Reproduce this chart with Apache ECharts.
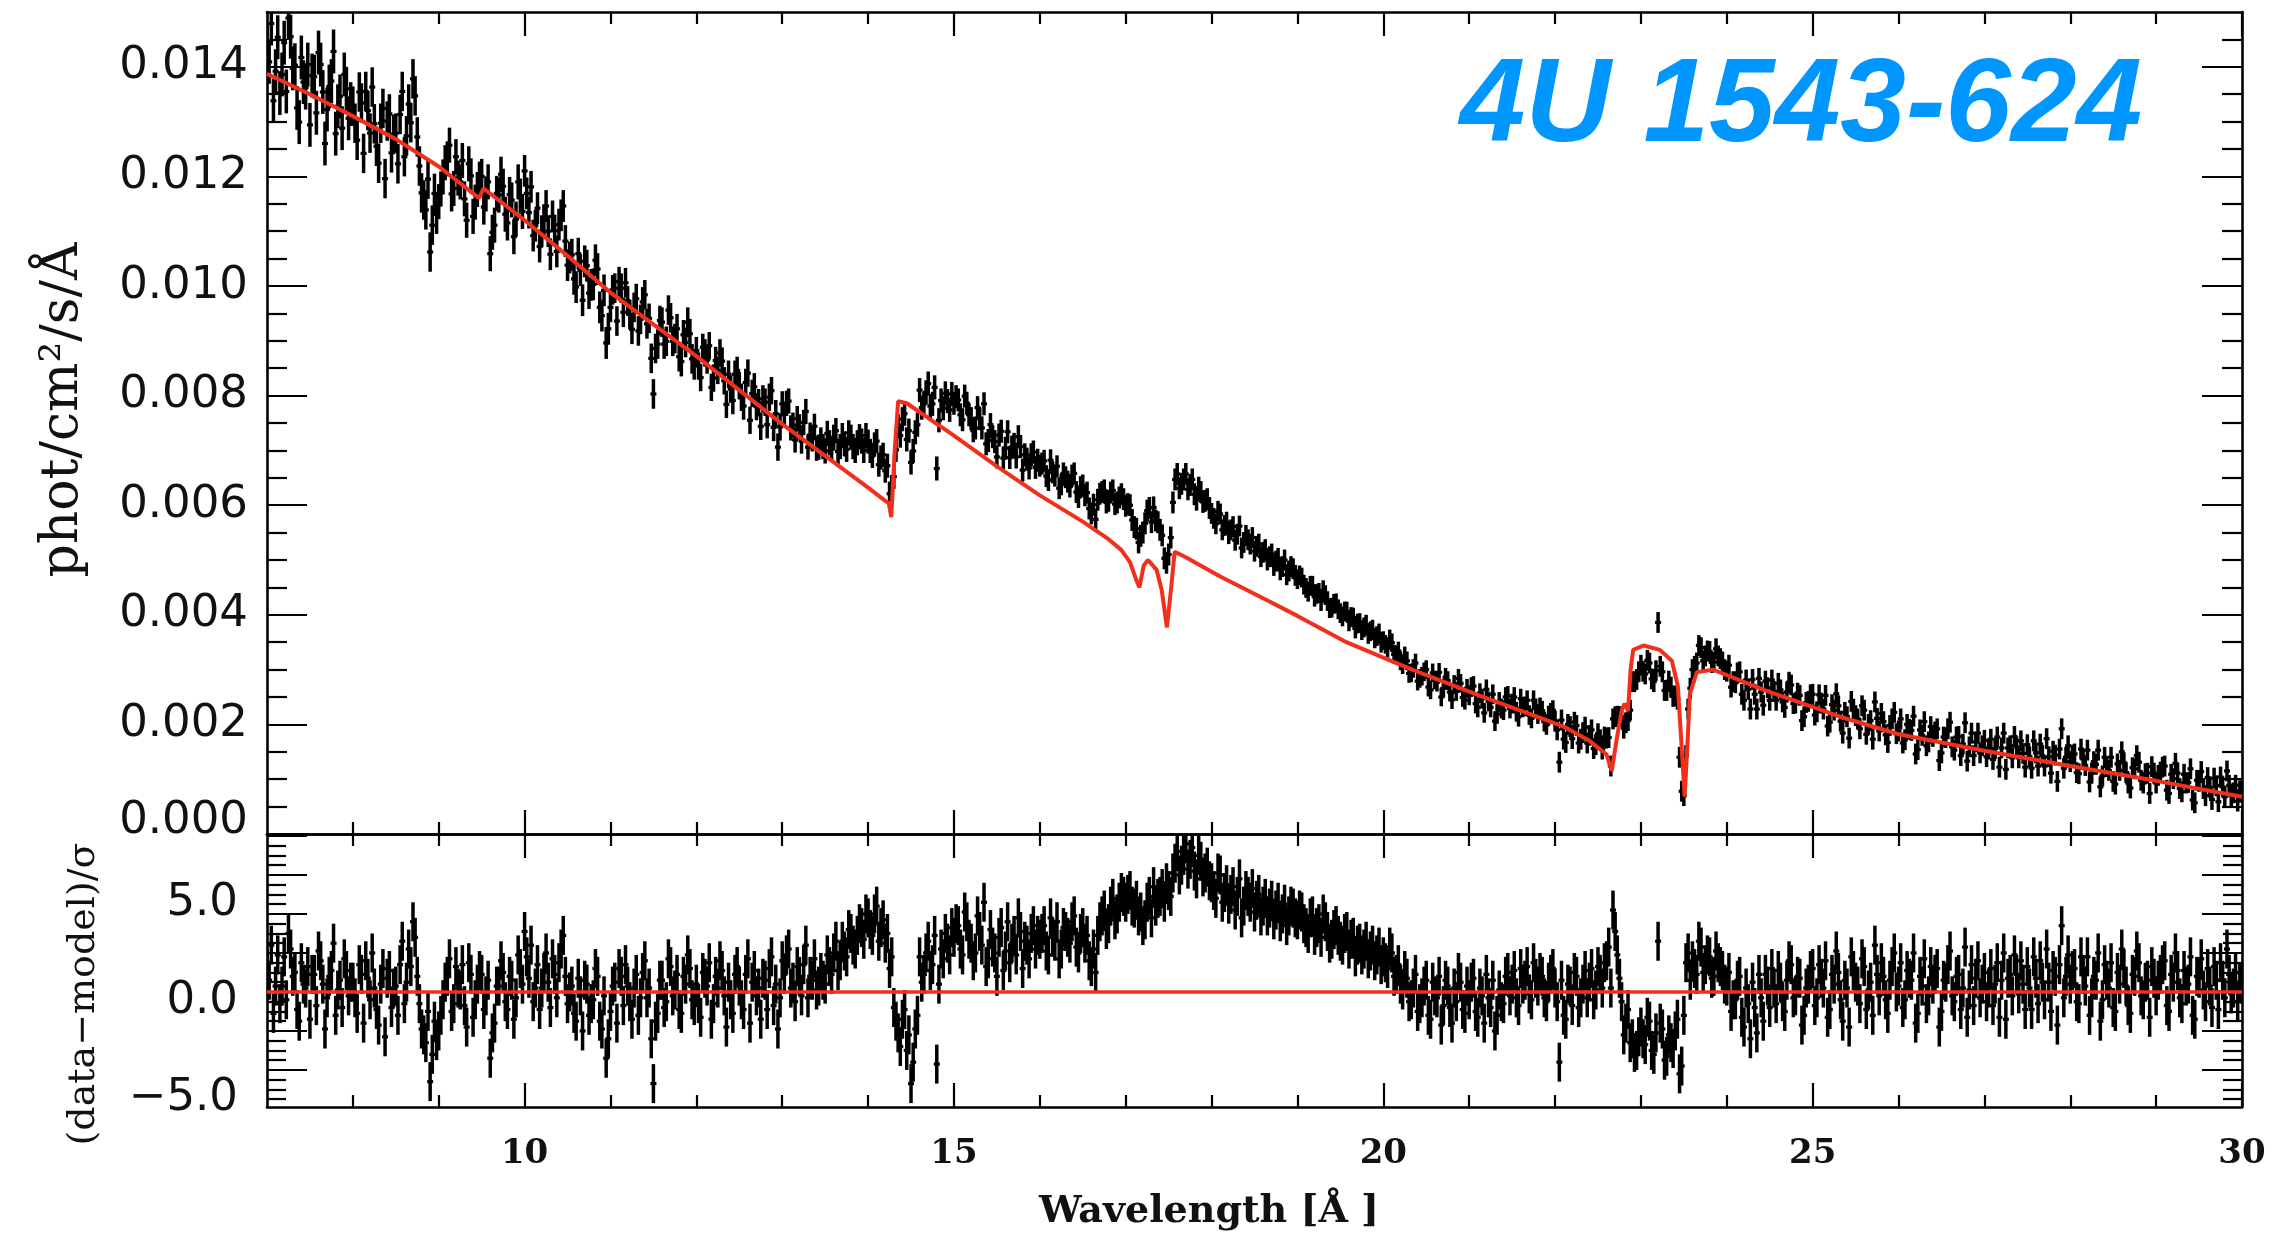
<!DOCTYPE html>
<html>
<head>
<meta charset="utf-8">
<script src="https://cdn.jsdelivr.net/npm/echarts@6/dist/echarts.min.js"></script>
<style>
html,body{margin:0;padding:0;background:#fff;}
#chart{width:2290px;height:1243px;}
</style>
</head>
<body>
<div id="chart"></div>
<script>
// ---------------- DATA ----------------
const waveStart = 7.0;   // first bin centre [Å]
const binStep = 0.05;    // bin spacing [Å] within one set; set B is offset by half a step

// flux per bin, set A: 7.00, 7.05, ... 30.00 Å  [phot/cm^2/s/Å]
const fluxA = [
0.01435,0.01479,0.01392,0.01352,0.01444,0.01489,0.01397,0.01325,0.01417,0.01362,0.01294,0.01382,0.01426,0.01354,0.01322,0.01374,0.01278,0.01346,0.01386,0.01306,
0.01328,0.01266,0.01334,0.01355,0.01279,0.01296,0.01224,0.01324,0.01301,0.01243,0.01279,0.01313,0.01236,0.01332,0.01378,0.01272,0.01170,0.01139,0.01062,0.01169,
0.01154,0.01199,0.01232,0.01168,0.01236,0.01190,0.01159,0.01223,0.01127,0.01176,0.01200,0.01168,0.01059,0.01111,0.01166,0.01182,0.01115,0.01157,0.01122,0.01164,
0.01210,0.01134,0.01092,0.01142,0.01100,0.01146,0.01058,0.01101,0.01112,0.01146,0.01038,0.01057,0.00998,0.01029,0.01045,0.00987,0.01003,0.01031,0.00946,0.00896,
0.00961,0.00996,0.01008,0.00952,0.00973,0.00921,0.00977,0.00939,0.00984,0.00941,0.00803,0.00894,0.00934,0.00899,0.00942,0.00904,0.00871,0.00911,0.00934,0.00867,
0.00882,0.00833,0.00878,0.00891,0.00832,0.00846,0.00863,0.00784,0.00812,0.00839,0.00818,0.00781,0.00841,0.00804,0.00780,0.00744,0.00788,0.00797,0.00742,0.00706,
0.00785,0.00786,0.00741,0.00719,0.00743,0.00751,0.00706,0.00721,0.00704,0.00719,0.00699,0.00714,0.00724,0.00698,0.00727,0.00702,0.00724,0.00700,0.00725,0.00700,
0.00716,0.00690,0.00717,0.00687,0.00663,0.00621,0.00652,0.00744,0.00757,0.00720,0.00678,0.00733,0.00810,0.00785,0.00822,0.00785,0.00667,0.00791,0.00804,0.00774,
0.00786,0.00792,0.00756,0.00786,0.00758,0.00741,0.00758,0.00785,0.00718,0.00725,0.00688,0.00735,0.00704,0.00687,0.00711,0.00725,0.00664,0.00684,0.00692,0.00669,
0.00672,0.00681,0.00646,0.00660,0.00671,0.00638,0.00651,0.00634,0.00658,0.00615,0.00636,0.00623,0.00585,0.00574,0.00621,0.00627,0.00608,0.00627,0.00605,0.00620,
0.00599,0.00600,0.00560,0.00532,0.00550,0.00590,0.00569,0.00572,0.00555,0.00503,0.00510,0.00605,0.00657,0.00639,0.00657,0.00637,0.00620,0.00632,0.00606,0.00611,
0.00585,0.00566,0.00584,0.00563,0.00548,0.00561,0.00547,0.00522,0.00545,0.00529,0.00516,0.00529,0.00514,0.00500,0.00511,0.00498,0.00482,0.00500,0.00480,0.00484,
0.00465,0.00468,0.00449,0.00453,0.00433,0.00440,0.00445,0.00425,0.00413,0.00421,0.00403,0.00406,0.00388,0.00395,0.00384,0.00372,0.00382,0.00370,0.00357,0.00366,
0.00353,0.00339,0.00349,0.00327,0.00316,0.00325,0.00293,0.00302,0.00279,0.00288,0.00300,0.00263,0.00281,0.00295,0.00266,0.00280,0.00245,0.00260,0.00275,0.00244,
0.00253,0.00270,0.00231,0.00247,0.00264,0.00231,0.00206,0.00241,0.00226,0.00252,0.00238,0.00223,0.00247,0.00233,0.00217,0.00244,0.00219,0.00225,0.00199,0.00221,
0.00206,0.00131,0.00173,0.00200,0.00174,0.00198,0.00173,0.00195,0.00180,0.00156,0.00183,0.00155,0.00175,0.00124,0.00214,0.00214,0.00193,0.00207,0.00278,0.00282,
0.00308,0.00292,0.00312,0.00278,0.00386,0.00296,0.00262,0.00268,0.00252,0.00140,0.00070,0.00228,0.00300,0.00312,0.00340,0.00325,0.00333,0.00314,0.00325,0.00314,
0.00297,0.00268,0.00276,0.00296,0.00244,0.00264,0.00282,0.00228,0.00259,0.00279,0.00244,0.00260,0.00275,0.00241,0.00259,0.00272,0.00239,0.00253,0.00214,0.00242,
0.00255,0.00223,0.00239,0.00253,0.00204,0.00226,0.00234,0.00184,0.00214,0.00242,0.00216,0.00192,0.00226,0.00200,0.00173,0.00211,0.00220,0.00181,0.00198,0.00222,
0.00188,0.00166,0.00200,0.00189,0.00146,0.00190,0.00205,0.00168,0.00178,0.00192,0.00148,0.00176,0.00204,0.00153,0.00178,0.00164,0.00133,0.00184,0.00168,0.00148,
0.00171,0.00155,0.00136,0.00177,0.00157,0.00118,0.00161,0.00178,0.00139,0.00147,0.00163,0.00120,0.00148,0.00164,0.00124,0.00141,0.00151,0.00096,0.00192,0.00140,
0.00132,0.00146,0.00110,0.00137,0.00153,0.00111,0.00127,0.00086,0.00140,0.00116,0.00096,0.00128,0.00150,0.00112,0.00084,0.00119,0.00131,0.00093,0.00111,0.00123,
0.00093,0.00113,0.00124,0.00074,0.00101,0.00111,0.00077,0.00093,0.00119,0.00057,0.00096,0.00083,0.00103,0.00063,0.00088,0.00104,0.00068,0.00089,0.00075,0.00060,0.00076
];

// flux per bin, set B: 7.025, 7.075, ... 29.975 Å
const fluxB = [
0.01409,0.01338,0.01454,0.01386,0.01355,0.01455,0.01403,0.01299,0.01372,0.01404,0.01384,0.01316,0.01404,0.01260,0.01364,0.01428,0.01328,0.01288,0.01360,0.01332,
0.01297,0.01354,0.01242,0.01320,0.01363,0.01255,0.01297,0.01196,0.01314,0.01277,0.01223,0.01355,0.01274,0.01298,0.01347,0.01219,0.01157,0.01195,0.01111,0.01131,
0.01177,0.01225,0.01257,0.01178,0.01197,0.01229,0.01120,0.01201,0.01153,0.01195,0.01144,0.01190,0.01098,0.01169,0.01204,0.01131,0.01167,0.01090,0.01190,0.01136,
0.01169,0.01181,0.01110,0.01072,0.01120,0.01100,0.01127,0.01063,0.01129,0.01082,0.01052,0.01013,0.01059,0.00974,0.01037,0.01002,0.01047,0.00961,0.00992,0.00922,
0.00993,0.00936,0.00996,0.01006,0.00948,0.00961,0.00918,0.00971,0.00931,0.00868,0.00886,0.00937,0.00894,0.00956,0.00899,0.00922,0.00862,0.00897,0.00913,0.00856,
0.00854,0.00888,0.00865,0.00815,0.00864,0.00878,0.00827,0.00839,0.00791,0.00846,0.00797,0.00824,0.00755,0.00816,0.00787,0.00794,0.00747,0.00809,0.00767,0.00743,
0.00766,0.00790,0.00746,0.00758,0.00717,0.00771,0.00728,0.00744,0.00706,0.00707,0.00731,0.00702,0.00736,0.00707,0.00712,0.00732,0.00707,0.00714,0.00717,0.00727,
0.00699,0.00711,0.00674,0.00692,0.00672,0.00633,0.00701,0.00727,0.00767,0.00736,0.00699,0.00747,0.00778,0.00806,0.00781,0.00815,0.00755,0.00777,0.00790,0.00803,
0.00798,0.00765,0.00799,0.00765,0.00736,0.00778,0.00741,0.00712,0.00747,0.00716,0.00728,0.00686,0.00734,0.00706,0.00688,0.00707,0.00692,0.00668,0.00697,0.00682,
0.00676,0.00653,0.00682,0.00654,0.00631,0.00658,0.00643,0.00654,0.00624,0.00633,0.00618,0.00594,0.00601,0.00610,0.00624,0.00605,0.00623,0.00602,0.00614,0.00611,
0.00602,0.00573,0.00557,0.00544,0.00567,0.00595,0.00596,0.00569,0.00545,0.00495,0.00541,0.00647,0.00631,0.00647,0.00629,0.00647,0.00610,0.00624,0.00608,0.00595,
0.00576,0.00589,0.00555,0.00569,0.00555,0.00536,0.00562,0.00532,0.00537,0.00541,0.00525,0.00506,0.00519,0.00506,0.00490,0.00503,0.00488,0.00473,0.00488,0.00472,
0.00472,0.00455,0.00442,0.00453,0.00438,0.00425,0.00436,0.00412,0.00420,0.00410,0.00397,0.00406,0.00396,0.00375,0.00385,0.00377,0.00365,0.00373,0.00361,0.00349,
0.00346,0.00356,0.00328,0.00334,0.00309,0.00316,0.00294,0.00312,0.00284,0.00296,0.00268,0.00294,0.00277,0.00250,0.00286,0.00259,0.00273,0.00284,0.00249,0.00266,
0.00268,0.00238,0.00257,0.00221,0.00242,0.00255,0.00219,0.00229,0.00250,0.00229,0.00250,0.00214,0.00231,0.00244,0.00211,0.00229,0.00231,0.00205,0.00216,0.00226,
0.00190,0.00208,0.00167,0.00196,0.00204,0.00166,0.00185,0.00166,0.00190,0.00163,0.00172,0.00177,0.00176,0.00210,0.00215,0.00214,0.00203,0.00226,0.00278,0.00296,
0.00297,0.00317,0.00283,0.00298,0.00306,0.00262,0.00279,0.00251,0.00246,0.00078,0.00143,0.00266,0.00306,0.00344,0.00316,0.00334,0.00313,0.00338,0.00320,0.00300,
0.00308,0.00278,0.00294,0.00255,0.00281,0.00228,0.00255,0.00284,0.00235,0.00267,0.00281,0.00244,0.00263,0.00231,0.00277,0.00238,0.00257,0.00207,0.00240,0.00254,
0.00217,0.00254,0.00228,0.00197,0.00236,0.00256,0.00206,0.00222,0.00175,0.00228,0.00210,0.00234,0.00182,0.00207,0.00241,0.00188,0.00205,0.00167,0.00210,0.00183,
0.00210,0.00172,0.00191,0.00215,0.00154,0.00180,0.00161,0.00196,0.00186,0.00134,0.00177,0.00192,0.00159,0.00177,0.00143,0.00203,0.00159,0.00143,0.00184,0.00161,
0.00141,0.00173,0.00156,0.00122,0.00184,0.00157,0.00139,0.00159,0.00170,0.00122,0.00141,0.00170,0.00124,0.00143,0.00174,0.00111,0.00144,0.00155,0.00120,0.00161,
0.00144,0.00112,0.00155,0.00125,0.00095,0.00132,0.00153,0.00106,0.00123,0.00140,0.00091,0.00116,0.00130,0.00093,0.00121,0.00143,0.00098,0.00110,0.00074,0.00111,
0.00107,0.00122,0.00080,0.00109,0.00129,0.00083,0.00109,0.00094,0.00062,0.00098,0.00114,0.00070,0.00085,0.00102,0.00059,0.00086,0.00115,0.00070,0.00089,0.00079
];

// 1-sigma flux error, one value per Ångström bin (7,8,...,29)
const fluxErrPerAngstrom = [0.00040,0.00036,0.00032,0.00029,0.00027,0.00025,0.00023,0.00022,0.00021,0.00020,0.00020,0.00019,0.00018,0.00017,0.00018,0.00019,0.00019,0.00019,0.00019,0.00019,0.00019,0.00019,0.00019];

// (data-model)/sigma, set A (7.00 ... 30.00 Å)
const residA = [
1.2,2.4,0.3,-0.6,1.8,3.0,0.8,-0.9,1.5,0.2,-1.4,0.9,2.1,0.4,-0.3,1.1,-1.2,0.6,1.7,-0.2,
0.5,-1.1,0.9,1.6,-0.4,0.2,-1.7,1.2,0.7,-0.8,0.3,1.4,-0.6,2.2,3.6,0.8,-1.9,-2.6,-4.6,-1.5,
-2.0,-0.4,0.8,-1.0,1.3,0.1,-0.7,1.5,-1.3,0.4,0.9,-0.2,-3.4,-1.6,0.3,1.0,-0.9,0.6,-0.3,1.2,
3.1,0.7,-0.5,1.4,0.2,2.0,-0.8,0.9,1.5,2.9,-0.6,0.3,-1.5,-0.2,0.6,-1.2,-0.4,0.8,-1.9,-3.4,
-1.0,0.5,1.2,-0.7,0.3,-1.4,0.9,-0.3,1.6,0.2,-4.7,-1.1,0.6,-0.5,1.3,0.1,-0.9,0.8,1.9,-0.4,
0.4,-1.3,0.7,1.5,-0.6,0.2,1.1,-1.8,-0.4,0.9,0.3,-0.9,1.7,0.5,-0.2,-1.4,0.6,1.2,-0.7,-1.9,
1.6,1.9,0.2,-0.5,0.8,1.4,-0.3,0.6,0.1,1.0,0.4,1.3,2.0,1.1,2.6,1.8,3.0,2.2,3.5,2.7,
3.8,2.9,4.4,3.3,2.5,1.2,-0.8,-2.1,-1.4,-3.0,-4.7,-1.9,1.8,0.9,2.6,1.4,-3.7,2.2,3.0,1.9,
2.8,3.4,1.9,3.6,2.5,2.0,3.1,4.6,1.7,2.3,0.8,3.3,2.1,1.5,2.9,3.8,1.2,2.4,3.0,2.2,
2.7,3.4,1.9,2.8,3.6,2.2,3.1,2.5,3.9,2.0,3.3,2.9,1.3,1.0,3.6,4.2,3.5,4.8,4.0,5.1,
4.6,5.2,4.3,3.9,3.4,4.6,3.8,4.4,4.9,4.6,5.2,6.1,7.2,6.5,7.6,6.8,6.2,7.0,5.9,6.4,
5.6,4.8,6.0,5.1,4.5,5.4,4.9,3.8,5.2,4.6,4.1,5.0,4.4,3.9,4.7,4.2,3.6,4.5,3.9,4.3,
3.7,4.1,3.3,3.8,2.9,3.5,4.0,3.1,2.7,3.4,2.6,3.0,2.2,2.8,2.4,1.9,2.6,2.1,1.6,2.3,
1.8,1.2,2.0,0.9,0.4,1.1,-0.5,0.2,-1.0,-0.3,0.6,-1.4,-0.2,0.8,-0.7,0.3,-1.6,-0.5,0.5,-1.1,
-0.4,0.7,-1.3,-0.2,0.9,-0.8,-2.0,0.1,-0.6,1.0,0.4,-0.3,1.2,0.6,-0.1,1.5,0.3,0.8,-0.5,0.9,
0.2,-3.6,-1.2,0.4,-0.7,0.8,-0.3,1.1,0.5,-0.4,1.3,0.2,1.6,0.2,3.1,0.7,-2.2,-0.9,-2.4,-3.0,
-1.8,-2.7,-1.5,-3.2,2.6,-1.9,-3.3,-2.6,-2.0,-4.2,-1.2,2.0,1.6,0.9,2.3,1.4,1.8,0.8,1.5,1.1,
0.3,-1.0,-0.4,0.8,-1.8,-0.6,0.5,-2.1,-0.3,0.9,-0.8,0.2,1.1,-0.5,0.6,1.4,-0.2,0.7,-1.2,0.4,
1.2,-0.3,0.7,1.6,-0.9,0.4,1.0,-1.5,0.2,1.8,0.5,-0.6,1.3,0.1,-1.2,0.9,1.5,-0.4,0.6,2.0,
0.3,-0.8,1.1,0.6,-1.6,0.8,1.7,-0.2,0.4,1.2,-1.0,0.5,2.1,-0.5,0.9,0.2,-1.3,1.4,0.7,-0.3,
1.0,0.2,-0.7,1.5,0.6,-1.4,0.9,1.9,-0.1,0.4,1.3,-0.9,0.7,1.6,-0.4,0.5,1.1,-1.7,3.4,0.8,
0.4,1.2,-0.6,0.9,1.8,-0.3,0.6,-1.5,1.4,0.2,-0.8,1.0,2.2,0.3,-1.1,0.8,1.5,-0.4,0.6,1.3,
-0.2,0.9,1.6,-1.0,0.5,1.1,-0.6,0.3,1.8,-1.4,0.7,0.1,1.2,-0.8,0.6,1.5,-0.3,0.9,0.2,-0.5,0.4
];

// (data-model)/sigma, set B (7.025 ... 29.975 Å)
const residB = [
0.6,-1.1,1.9,0.3,-0.4,2.2,1.0,-1.5,0.4,1.3,0.9,-0.7,1.6,-1.9,0.8,2.5,0.1,-0.8,1.1,0.5,
-0.3,1.4,-1.6,0.7,2.0,-0.9,0.4,-2.3,1.1,0.2,-1.2,2.6,0.5,1.3,2.8,-0.6,-2.2,-1.0,-3.2,-2.5,
-1.2,0.5,1.7,-0.6,0.2,1.4,-1.8,0.9,-0.4,1.1,-0.9,0.6,-2.1,0.3,1.6,-0.5,0.8,-1.4,1.9,0.4,
1.8,2.4,0.2,-0.9,1.0,0.5,1.7,-0.3,2.2,0.8,0.0,-1.1,0.7,-2.0,0.4,-0.6,1.2,-1.5,-0.2,-2.4,
0.3,-1.6,0.8,1.4,-0.5,0.2,-1.2,1.0,-0.3,-2.4,-1.5,0.6,-0.8,1.7,-0.2,0.9,-1.1,0.4,1.2,-0.7,
-0.6,1.0,0.3,-1.4,0.8,1.6,-0.2,0.5,-1.1,1.3,-0.4,0.9,-1.6,1.1,0.2,0.7,-0.9,1.8,0.4,-0.3,
0.9,2.2,0.5,1.3,-0.2,2.4,0.8,1.7,0.3,0.6,1.9,0.9,2.6,1.6,2.1,3.2,2.4,2.9,3.3,4.0,
3.2,4.0,2.6,3.7,3.0,1.8,-1.5,-2.8,-0.9,-2.2,-3.6,-1.2,0.5,2.0,1.1,2.9,0.4,1.7,2.5,3.3,
3.5,2.2,4.1,2.7,1.6,3.9,2.4,1.3,3.2,2.0,2.8,1.1,3.6,2.5,1.9,3.1,2.6,1.7,3.4,2.9,
3.0,2.1,3.8,2.6,1.7,3.3,2.8,3.6,2.3,3.0,2.5,1.6,2.2,2.9,3.9,3.2,4.4,3.7,4.6,4.9,
5.0,4.4,4.7,4.1,3.7,4.9,5.4,4.8,5.3,5.6,4.9,6.6,6.0,7.0,6.3,7.4,5.8,6.7,6.1,5.7,
5.2,6.1,4.6,5.5,5.0,4.2,5.8,4.4,4.9,5.3,4.7,3.9,4.8,4.3,3.7,4.6,4.0,3.4,4.4,3.8,
4.2,3.5,3.0,3.9,3.3,2.8,3.6,2.5,3.2,2.9,2.4,3.1,2.7,1.8,2.5,2.2,1.7,2.4,1.9,1.4,
1.5,2.3,0.8,1.4,0.1,0.7,-0.4,0.9,-0.6,0.3,-1.2,0.5,-0.3,-1.7,0.6,-0.8,0.2,1.0,-0.9,0.3,
0.5,-1.0,0.2,-1.6,-0.3,0.6,-1.2,-0.5,0.8,-0.2,1.1,-0.7,0.4,1.3,-0.4,0.7,1.0,-0.3,0.5,1.2,
-0.5,0.6,-1.4,0.3,1.0,-0.8,0.4,-0.3,1.2,0.1,0.9,1.5,2.3,4.2,1.9,-0.5,-1.6,-2.6,-3.1,-2.3,
-2.4,-1.3,-3.0,-2.1,-1.6,-3.5,-2.2,-2.9,-1.4,-3.8,1.5,0.6,1.2,2.6,1.0,1.9,0.7,2.1,1.3,0.4,
1.0,-0.4,0.6,-1.3,0.2,-2.4,-0.8,0.9,-1.5,0.3,1.2,-0.6,0.5,-1.0,1.6,-0.3,0.8,-1.7,0.2,1.1,
-0.7,1.4,0.2,-1.3,0.9,2.1,-0.4,0.6,-1.8,1.1,0.3,1.7,-0.9,0.5,2.4,-0.2,0.8,-1.1,1.3,0.0,
1.5,-0.4,0.7,2.0,-1.1,0.3,-0.6,1.3,0.9,-1.8,0.6,1.4,-0.2,0.8,-0.9,2.3,0.1,-0.7,1.6,0.4,
-0.5,1.2,0.4,-1.3,2.0,0.7,-0.2,0.9,1.6,-0.9,0.2,1.8,-0.6,0.5,2.2,-1.0,0.8,1.4,-0.3,1.9,
1.1,-0.5,1.8,0.3,-1.2,0.8,2.0,-0.4,0.6,1.5,-1.0,0.4,1.2,-0.7,0.9,2.1,-0.2,0.5,-1.3,0.7,
0.6,1.4,-0.7,0.9,2.0,-0.3,1.1,0.4,-1.2,0.8,1.7,-0.5,0.3,1.3,-0.9,0.6,2.2,-0.1,1.0,0.5
];
const residErr = 1.0; // residuals are in units of sigma

// best-fit model (red curve)
const modelWave = [7.0,7.5,8.0,8.5,9.0,9.44,9.47,9.52,10.0,10.5,11.0,11.5,12.0,12.5,13.0,13.5,14.0,14.2,14.24,14.27,14.31,14.35,14.45,15.0,15.5,16.0,16.5,16.8,16.95,17.05,17.12,17.16,17.21,17.26,17.36,17.42,17.48,17.53,17.57,17.7,18.1,18.64,19.0,19.57,20.0,20.35,21.13,21.9,22.1,22.4,22.6,22.66,22.72,22.78,22.81,22.85,22.88,22.91,23.03,23.22,23.36,23.43,23.47,23.51,23.55,23.57,23.65,23.84,24.43,25.32,26.0,27.0,28.0,29.0,30.0];
const modelFlux = [0.01387,0.01350,0.01310,0.01268,0.01218,0.01164,0.01160,0.01178,0.01120,0.01055,0.00988,0.00930,0.00872,0.00810,0.00748,0.00690,0.00632,0.00608,0.00604,0.00578,0.00700,0.00790,0.00786,0.00727,0.00671,0.00618,0.00570,0.00538,0.00518,0.00496,0.00465,0.00450,0.00490,0.00500,0.00482,0.00445,0.00377,0.00450,0.00515,0.00505,0.00470,0.00427,0.00398,0.00350,0.00322,0.00299,0.00252,0.00208,0.00196,0.00170,0.00145,0.00115,0.00175,0.00228,0.00238,0.00224,0.00300,0.00336,0.00344,0.00336,0.00316,0.00270,0.00170,0.00068,0.00190,0.00255,0.00295,0.00300,0.00263,0.00214,0.00182,0.00152,0.00124,0.00097,0.00068];

// residual model (zero line)
const residModelWave = [7, 30];
const residModel = [0, 0];

// tick labels
const xTickLabels = [10, 15, 20, 25, 30];
const xMinorTicks = [8,9,11,12,13,14,16,17,18,19,21,22,23,24,26,27,28,29];
const fluxTickLabels = [0, 0.002, 0.004, 0.006, 0.008, 0.010, 0.012, 0.014];
const residTickLabels = [-5, 0, 5];
const residMajorTicks = [-4, -2, 0, 2, 4, 6, 8];

const titleText = '4U 1543-624';
const xTitle = 'Wavelength [Å ]';
const yTitleTop = 'phot/cm²/s/Å';
const yTitleBottom = '(data\u2212model)/σ';

// ---------------- BUILD ----------------
const fluxMinorTicks = [];
for (let i = 1; i < 30; i++) if (i % 4) fluxMinorTicks.push(+(i * 0.0005).toFixed(4));
const residMinorTicks = [];
for (let v = -5.5; v <= 8.01; v += 0.5) { const r = +v.toFixed(1); if (r % 2 !== 0) residMinorTicks.push(r); }

const waveA = fluxA.map((_, i) => +(waveStart + i * binStep).toFixed(3));
const waveB = fluxB.map((_, i) => +(waveStart + binStep / 2 + i * binStep).toFixed(3));
const errFor = w => fluxErrPerAngstrom[Math.min(fluxErrPerAngstrom.length - 1, Math.floor(w + 1e-9) - 7)];
const fluxData = waveA.map((w, i) => [w, fluxA[i], errFor(w)])
  .concat(waveB.map((w, i) => [w, fluxB[i], errFor(w)]));
const residData = waveA.map((w, i) => [w, residA[i], residErr])
  .concat(waveB.map((w, i) => [w, residB[i], residErr]));

const HALF_BIN = 0.035;
const INK = '#000';
const RED = '#f0301c';

function errRender(params, api) {
  const x = api.value(0), y = api.value(1), e = api.value(2);
  const c = api.coord([x, y]);
  const t = api.coord([x, y + e]);
  const b = api.coord([x, y - e]);
  const l = api.coord([x - HALF_BIN, y]);
  const r = api.coord([x + HALF_BIN, y]);
  return {
    type: 'group',
    children: [
      { type: 'line', shape: { x1: c[0], y1: t[1], x2: c[0], y2: b[1] }, style: { stroke: INK, lineWidth: 3.5 } },
      { type: 'line', shape: { x1: l[0], y1: c[1], x2: r[0], y2: c[1] }, style: { stroke: INK, lineWidth: 3.2 } }
    ]
  };
}

const lineStyleAxis = { color: INK, width: 2.6 };
function makeX(gridIndex, position, tickVals, tickLen, withLine, labelVals) {
  return {
    type: 'value', gridIndex, position, min: 7, max: 30,
    axisLine: { show: withLine, onZero: false, lineStyle: lineStyleAxis },
    axisTick: { show: true, inside: true, length: tickLen, customValues: tickVals, lineStyle: { color: INK, width: 2.2 } },
    axisLabel: labelVals ? {
      show: true, customValues: labelVals, margin: 30,
      fontFamily: 'DejaVu Serif', fontSize: 34, fontWeight: 'bold', color: '#111',
      formatter: v => String(v)
    } : { show: false },
    splitLine: { show: false }
  };
}
function makeY(gridIndex, position, min, max, tickVals, tickLen, withLine, labelVals, fmt, margin, pad, rich) {
  return {
    type: 'value', gridIndex, position, min, max,
    axisLine: { show: withLine, onZero: false, lineStyle: lineStyleAxis },
    axisTick: { show: true, inside: true, length: tickLen, customValues: tickVals, lineStyle: { color: INK, width: 2.2 } },
    axisLabel: labelVals ? {
      show: true, customValues: labelVals, margin: margin,
      fontFamily: 'DejaVu Sans', fontSize: 45, color: '#111',
      padding: pad || 0, rich: rich || {},
      formatter: fmt
    } : { show: false },
    splitLine: { show: false }
  };
}

const FMIN = 0, FMAX = 0.015;
const RMIN = -5.9, RMAX = 8.1;
const fluxFmt = v => (v === 0 ? '{lift|0.000}' : v.toFixed(3));
const fluxRich = { lift: { fontFamily: 'DejaVu Sans', fontSize: 45, color: '#111', padding: [0, 0, 26, 0] } };
const residFmt = v => (v < 0 ? '\u2212' + Math.abs(v).toFixed(1) : v.toFixed(1));

const option = {
  animation: false,
  backgroundColor: '#fff',
  grid: [
    { left: 267, top: 12, width: 1975, height: 822 },
    { left: 267, top: 834, width: 1975, height: 273 }
  ],
  xAxis: [
    makeX(0, 'bottom', xTickLabels, 24, true, null),
    makeX(0, 'bottom', xMinorTicks, 12, false, null),
    makeX(0, 'top', xTickLabels, 24, true, null),
    makeX(0, 'top', xMinorTicks, 12, false, null),
    makeX(1, 'bottom', xTickLabels, 24, true, xTickLabels),
    makeX(1, 'bottom', xMinorTicks, 12, false, null),
    makeX(1, 'top', xTickLabels, 24, true, null),
    makeX(1, 'top', xMinorTicks, 12, false, null)
  ],
  yAxis: [
    makeY(0, 'left', FMIN, FMAX, fluxTickLabels, 40, true, fluxTickLabels, fluxFmt, 19, 0, fluxRich),
    makeY(0, 'left', FMIN, FMAX, fluxMinorTicks, 20, false, null),
    makeY(0, 'right', FMIN, FMAX, fluxTickLabels, 40, true, null),
    makeY(0, 'right', FMIN, FMAX, fluxMinorTicks, 20, false, null),
    makeY(1, 'left', RMIN, RMAX, residMajorTicks, 40, true, residTickLabels, residFmt, 29, [18, 0, 0, 0]),
    makeY(1, 'left', RMIN, RMAX, residMinorTicks, 19, false, null),
    makeY(1, 'right', RMIN, RMAX, residMajorTicks, 40, true, null),
    makeY(1, 'right', RMIN, RMAX, residMinorTicks, 19, false, null)
  ],
  series: [
    {
      name: 'data', type: 'custom', xAxisIndex: 0, yAxisIndex: 0,
      data: fluxData, encode: { x: 0, y: 1 }, renderItem: errRender, clip: true, z: 2, silent: true
    },
    {
      name: 'model', type: 'line', xAxisIndex: 0, yAxisIndex: 0,
      data: modelWave.map((w, i) => [w, modelFlux[i]]),
      showSymbol: false, symbol: 'none', lineStyle: { color: RED, width: 4 }, z: 3, clip: true, silent: true
    },
    {
      name: 'residuals', type: 'custom', xAxisIndex: 4, yAxisIndex: 4,
      data: residData, encode: { x: 0, y: 1 }, renderItem: errRender, clip: true, z: 2, silent: true
    },
    {
      name: 'zero', type: 'line', xAxisIndex: 4, yAxisIndex: 4,
      data: residModelWave.map((w, i) => [w, residModel[i]]),
      showSymbol: false, symbol: 'none', lineStyle: { color: RED, width: 3.5 }, z: 3, silent: true
    }
  ],
  graphic: [
    {
      type: 'text', x: 1801, y: 108, z: 10,
      style: {
        text: titleText, fill: '#0096ff',
        fontFamily: '"Liberation Sans", Arial, sans-serif', fontSize: 118, fontWeight: 'bold', fontStyle: 'italic',
        align: 'center', verticalAlign: 'middle', textAlign: 'center', textVerticalAlign: 'middle'
      }
    },
    {
      type: 'text', x: 1209, y: 1212, z: 10,
      style: {
        text: xTitle, fill: '#111',
        fontFamily: 'DejaVu Serif', fontSize: 38, fontWeight: 'bold',
        align: 'center', verticalAlign: 'middle', textAlign: 'center', textVerticalAlign: 'middle'
      }
    },
    {
      type: 'text', x: 63, y: 410, rotation: Math.PI / 2, z: 10,
      style: {
        text: yTitleTop, fill: '#111',
        fontFamily: 'DejaVu Serif', fontSize: 52,
        align: 'center', verticalAlign: 'middle', textAlign: 'center', textVerticalAlign: 'middle'
      }
    },
    {
      type: 'text', x: 84, y: 994, rotation: Math.PI / 2, z: 10,
      style: {
        text: yTitleBottom, fill: '#111',
        fontFamily: 'DejaVu Serif', fontSize: 38,
        align: 'center', verticalAlign: 'middle', textAlign: 'center', textVerticalAlign: 'middle'
      }
    }
  ]
};

const chart = echarts.init(document.getElementById('chart'), null, { renderer: 'canvas' });
chart.setOption(option);
</script>
</body>
</html>
